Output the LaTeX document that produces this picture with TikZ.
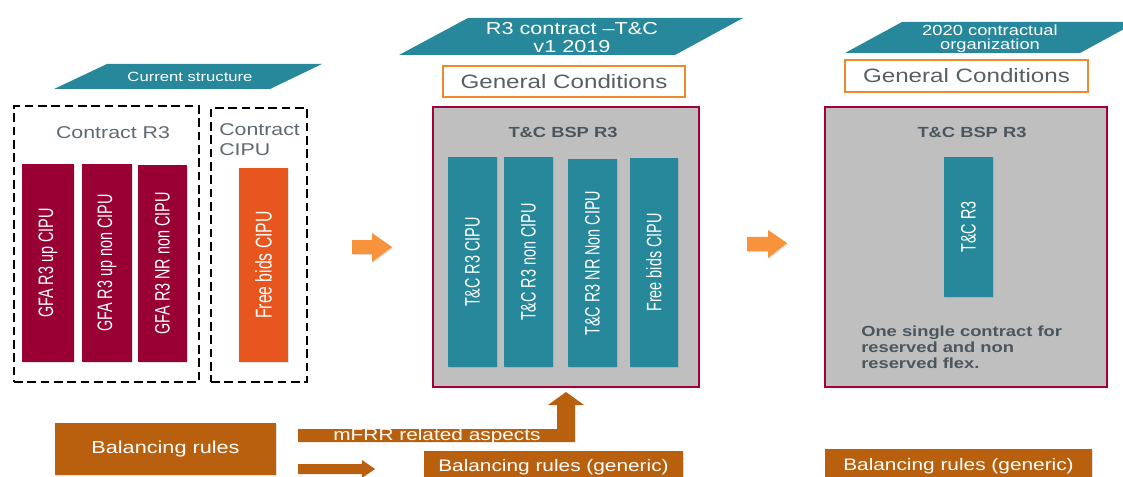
\documentclass[tikz,border=0pt]{standalone}
\usepackage{graphicx}
\usepackage{fontspec}
\setmainfont{Liberation Sans}
\usetikzlibrary{fit,shadows}

\definecolor{crimson}{HTML}{990033}
\definecolor{framered}{HTML}{A3003A}
\definecolor{tealbar}{HTML}{26889A}
\definecolor{gcorange}{HTML}{F0892B}
\definecolor{burnt}{HTML}{B9600F}
\definecolor{freeorange}{HTML}{E8561F}
\definecolor{arroworange}{HTML}{F7933B}
\definecolor{boxgray}{HTML}{BFBFBF}
\definecolor{labelgray}{HTML}{5E6A71}
\definecolor{titlegray}{HTML}{4B565D}

% horizontally widened text, plain and turned upright
\newcommand{\wide}[1]{\scalebox{1.25}[1]{#1}}
\newcommand{\upright}[1]{\scalebox{1.45}[1]{\rotatebox{90}{#1}}}

\begin{document}
\begin{tikzpicture}[x=0.75pt,y=-0.75pt,
  area/.style={inner sep=0pt,outer sep=0pt},
  softshadow/.style={drop shadow={opacity=0.25,shadow xshift=0.8pt,shadow yshift=-0.8pt}},
  redbar/.style={area,fill=crimson,softshadow},
  tealcol/.style={area,fill=tealbar,softshadow},
  freebar/.style={area,fill=freeorange,softshadow},
  dashbox/.style={area,draw=black,line width=1.9pt,dash pattern=on 6.5pt off 3.5pt},
  bspbox/.style={area,draw=framered,line width=2pt,fill=boxgray,softshadow},
  gcbox/.style={area,draw=gcorange,line width=1.8pt,fill=white},
  rulebox/.style={area,fill=burnt,softshadow},
  banner/.style={fill=tealbar},
  bararrow/.style={fill=arroworange,softshadow},
  bandarrow/.style={fill=burnt},
  bartext/.style={text=white,inner sep=0pt,font=\fontsize{10.8}{12}\selectfont},
  bannertext/.style={text=white,align=center,inner sep=0pt},
  captext/.style={text=labelgray,inner sep=0pt,font=\fontsize{12.8}{15}\selectfont},
  gctext/.style={text=labelgray!90!black,inner sep=0pt,font=\fontsize{14.5}{17}\selectfont},
  bsptitle/.style={text=titlegray,inner sep=0pt,font=\fontsize{11}{13}\selectfont\bfseries},
  ruletext/.style={text=white,inner sep=0pt,font=\fontsize{12.5}{15}\selectfont}
]
\clip (0,0) rectangle (1123,477);
\fill[white] (0,0) rectangle (1123,477);

% ---------------- current structure ----------------
\fill[banner] (54,89) -- (270,89) -- (322,64) -- (107,64) -- cycle;
\node[bannertext,font=\fontsize{10}{12}\selectfont] (curtitle) at (190,76.5) {\wide{Current structure}};

\node[dashbox,fit={(14,106)(199,382)}] (contractR3) {};
\node[dashbox,fit={(211,108)(307,382)}] (contractCIPU) {};
\node[captext] (contractR3lbl) at (113,133) {\wide{Contract R3}};
\node[captext,anchor=west,align=left] (contractCIPUlbl) at (219,139.5) {\wide{Contract}\\[0.4pt]\wide{CIPU}};

\node[redbar,fit={(22,164)(74,362)}] (gfaA) {};
\node[redbar,fit={(82,164)(132,362)}] (gfaB) {};
\node[redbar,fit={(138,165)(187,362)}] (gfaC) {};
\node[freebar,fit={(239,168)(288,362)}] (freeA) {};
\node[bartext] (gfaAtxt) at (gfaA.center) {\upright{GFA R3 up CIPU}};
\node[bartext] (gfaBtxt) at (gfaB.center) {\upright{GFA R3 up non CIPU}};
\node[bartext] (gfaCtxt) at (gfaC.center) {\upright{GFA R3 NR non CIPU}};
\node[bartext,font=\fontsize{11.8}{13}\selectfont] (freeAtxt) at (freeA.center) {\upright{Free bids CIPU}};

% step arrows
\fill[bararrow] (352,240) -- (372,240) -- (372,233) -- (392,247) -- (372,262) -- (372,254) -- (352,254) -- cycle;
\fill[bararrow] (747,237) -- (768,237) -- (768,230) -- (787,243) -- (768,258) -- (768,251) -- (747,251) -- cycle;

% ---------------- R3 contract T&C v1 2019 ----------------
\fill[banner] (399,55) -- (675,55) -- (743,18) -- (468,18) -- cycle;
\node[bannertext,font=\fontsize{13}{13.5}\selectfont] (midtitle) at (572,37.5) {\wide{R3 contract --T\&C}\\\wide{v1 2019}};

\node[gcbox,fit={(443,66)(685,97)}] (gcMid) {};
\node[gctext] (gcMidtxt) at (gcMid.center) {\wide{General Conditions}};

\node[bspbox,fit={(433,107)(699,387)}] (bspMid) {};
\node[bsptitle] (bspMidtitle) at (563,132) {\wide{T\&C BSP R3}};
\node[tealcol,fit={(448,157)(497,367)}] (tcA) {};
\node[tealcol,fit={(504,157)(553,367)}] (tcB) {};
\node[tealcol,fit={(568,159)(617,367)}] (tcC) {};
\node[tealcol,fit={(630,158)(678,367)}] (tcD) {};
\node[bartext] (tcAtxt) at (tcA.center) {\upright{T\&C R3 CIPU}};
\node[bartext] (tcBtxt) at (tcB.center) {\upright{T\&C R3 non CIPU}};
\node[bartext] (tcCtxt) at (tcC.center) {\upright{T\&C R3 NR Non CIPU}};
\node[bartext] (tcDtxt) at (tcD.center) {\upright{Free bids CIPU}};

% ---------------- 2020 contractual organization ----------------
\fill[banner] (845,53) -- (1080,53) -- (1137,22) -- (902,22) -- cycle;
\node[bannertext,font=\fontsize{11}{10.5}\selectfont] (righttitle) at (990,38.5) {\wide{2020 contractual}\\\wide{organization}};

\node[gcbox,fit={(845,60)(1088,92)}] (gcRight) {};
\node[gctext] (gcRighttxt) at (gcRight.center) {\wide{General Conditions}};

\node[bspbox,fit={(825,107)(1107,387)}] (bspRight) {};
\node[bsptitle] (bspRighttitle) at (972,132) {\wide{T\&C BSP R3}};
\node[tealcol,fit={(944,157)(993,297)}] (tcR) {};
\node[bartext] (tcRtxt) at (tcR.center) {\upright{T\&C R3}};
\node[bsptitle,anchor=west,align=left,font=\fontsize{11}{12}\selectfont\bfseries] (singlenote) at (861,347)
  {\wide{One single contract for}\\\wide{reserved and non}\\\wide{reserved flex.}};

% ---------------- balancing rules ----------------
\node[rulebox,fit={(55,423)(276,475)}] (balLeft) {};
\node[ruletext,font=\fontsize{13}{15}\selectfont] (balLefttxt) at (balLeft.center) {\wide{Balancing rules}};

\node[rulebox,fit={(424,451)(683,492)}] (balMid) {};
\node[ruletext] (balMidtxt) at (553.5,467) {\wide{Balancing rules (generic)}};
\node[rulebox,fit={(825,449)(1092,492)}] (balRight) {};
\node[ruletext] (balRighttxt) at (958.5,466) {\wide{Balancing rules (generic)}};

% mFRR band turning up into the T&C box
\fill[bandarrow] (298,429) -- (557,429) -- (557,405) -- (548,405) -- (566,392)
  -- (584,405) -- (575,405) -- (575,442) -- (298,442) -- cycle;
\node[ruletext] (mfrrtxt) at (437,436) {\wide{mFRR related aspects}};
\fill[bandarrow] (298,464) -- (362,464) -- (362,460) -- (375,469) -- (362,478) -- (362,474) -- (298,474) -- cycle;
\end{tikzpicture}
\end{document}
